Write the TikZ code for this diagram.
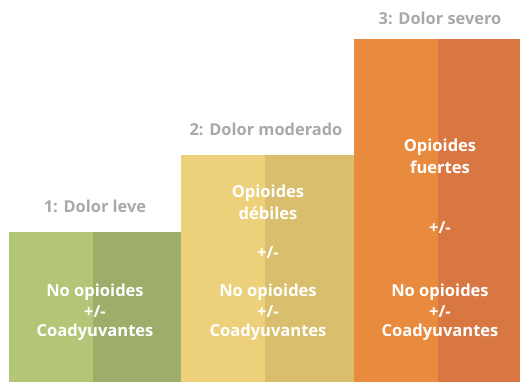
\documentclass[tikz,border=0pt]{standalone}
\usepackage{fontspec}
\setmainfont{Open Sans}
\definecolor{gL}{HTML}{B3C577}
\definecolor{gR}{HTML}{9DAE6B}
\definecolor{yL}{HTML}{EDD17A}
\definecolor{yR}{HTML}{D9BF6D}
\definecolor{oL}{HTML}{E98B3E}
\definecolor{oR}{HTML}{D97743}
\definecolor{lab}{HTML}{A9A9A9}
\tikzset{
  inner/.style={text=white, font=\fontsize{12.4}{15}\selectfont\bfseries, align=center, inner sep=0pt},
  level/.style={text=lab, font=\fontsize{12.3}{15}\selectfont\bfseries, inner sep=0pt},
}
\begin{document}
\begin{tikzpicture}[x=0.75pt,y=-0.75pt]
\useasboundingbox (0,0) rectangle (520,382);
% green block
\fill[gL] (9,232) rectangle (93,382);
\fill[gR] (93,232) rectangle (181,382);
% yellow block
\fill[yL] (181,155) rectangle (265,382);
\fill[yR] (265,155) rectangle (354,382);
% orange block
\fill[oL] (354,39) rectangle (438,382);
\fill[oR] (438,39) rectangle (520,382);
% level labels
\node[level] (l1) at (95,206) {1: Dolor leve};
\node[level] (l2) at (266,129) {2: Dolor moderado};
\node[level] (l3) at (440,18) {3: Dolor severo};
% green texts
\node[inner] (g1) at (95,292) {No opioides};
\node[inner] (g2) at (95,312) {+/-};
\node[inner] (g3) at (95,332) {Coadyuvantes};
% yellow texts
\node[inner] (y1) at (268,193) {Opioides};
\node[inner] (y2) at (268,213) {débiles};
\node[inner] (y3) at (268,253) {+/-};
\node[inner] (y4) at (268,292) {No opioides};
\node[inner] (y5) at (268,312) {+/-};
\node[inner] (y6) at (268,332) {Coadyuvantes};
% orange texts
\node[inner] (o1) at (440,147) {Opioides};
\node[inner] (o2) at (440,167) {fuertes};
\node[inner] (o3) at (440,228) {+/-};
\node[inner] (o4) at (440,292) {No opioides};
\node[inner] (o5) at (440,312) {+/-};
\node[inner] (o6) at (440,332) {Coadyuvantes};
\end{tikzpicture}
\end{document}
